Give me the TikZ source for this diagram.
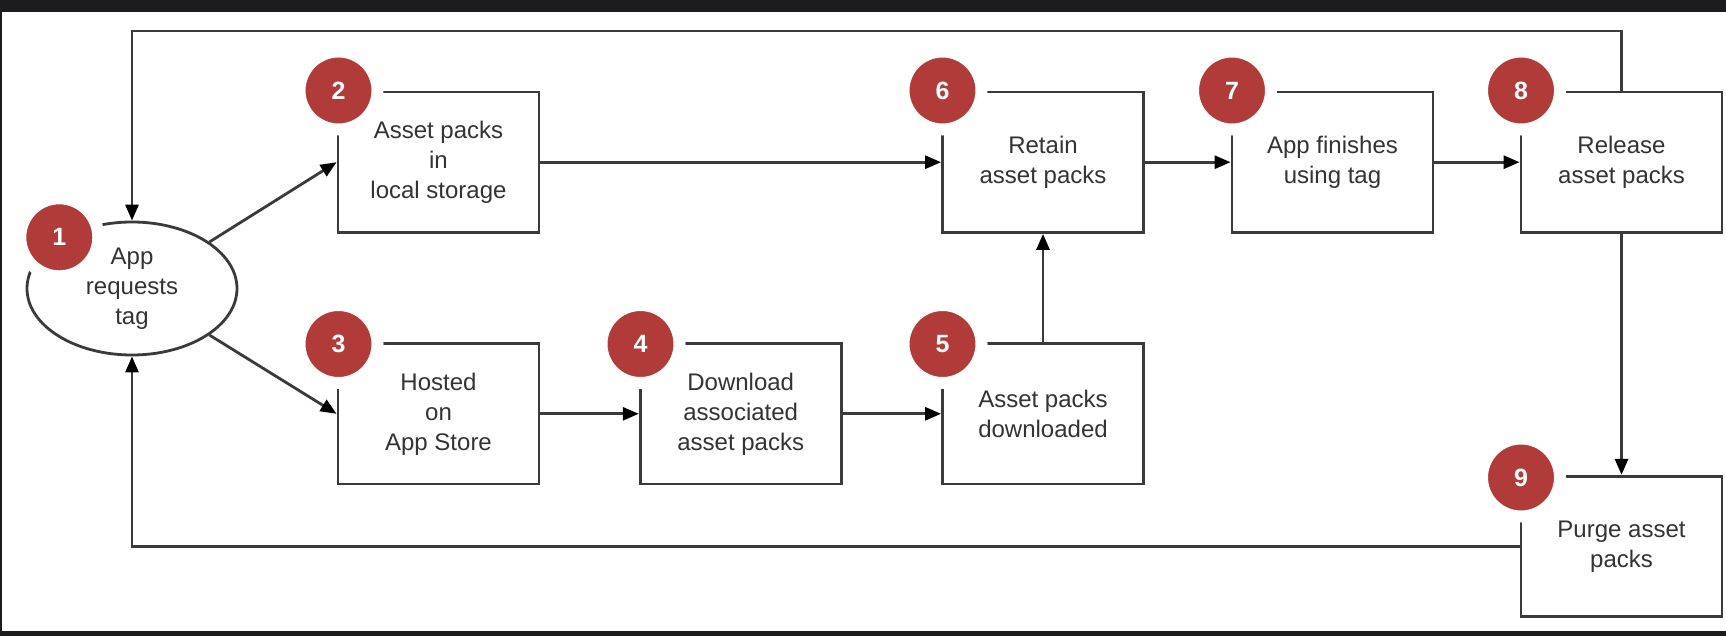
\documentclass[tikz,border=0pt]{standalone}
\usepackage{fontspec}
\setmainfont{Liberation Sans}
\usetikzlibrary{arrows.meta,shapes.geometric}
\definecolor{bandc}{HTML}{1C1C1E}
\definecolor{linec}{HTML}{3A3A3A}
\definecolor{textc}{HTML}{333333}
\definecolor{badgec}{HTML}{B03B38}
\tikzset{
  box/.style={draw=linec, line width=2.8pt, rectangle, minimum width=201pt, minimum height=140.5pt, inner sep=0pt, align=center, text=textc, font=\fontsize{24}{30}\selectfont},
  oval/.style={draw=linec, line width=2.8pt, ellipse, minimum width=210pt, minimum height=133pt, inner sep=0pt, align=center, text=textc, font=\fontsize{24}{30}\selectfont},
  badge/.style={circle, fill=badgec, draw=white, line width=12pt, minimum size=78pt, inner sep=0pt, text=white, font=\fontsize{25}{25}\selectfont\bfseries},
  arr/.style={draw=linec, line width=2.8pt, -{Triangle[length=16pt,width=13pt,color=black]}},
}
\begin{document}
\begin{tikzpicture}[x=1pt,y=-1pt]
\useasboundingbox (0,0) rectangle (1726,636);
\fill[white] (0,0) rectangle (1726,636);
\fill[bandc] (0,0) rectangle (1726,12);
\fill[bandc] (0,631) rectangle (1726,636);
\fill[bandc] (0,0) rectangle (1.5,636);

\node[oval] (e1) at (132,288.5) {App\\requests\\tag};
\node[box] (b2) at (438.5,162.2) {Asset packs\\in\\local storage};
\node[box] (b3) at (438.5,413.8) {Hosted\\on\\App Store};
\node[box] (b4) at (740.7,413.8) {Download\\associated\\asset packs};
\node[box] (b5) at (1043,413.8) {Asset packs\\downloaded};
\node[box] (b6) at (1043,162.2) {Retain\\asset packs};
\node[box] (b7) at (1332.5,162.2) {App finishes\\using tag};
\node[box] (b8) at (1621.5,162.2) {Release\\asset packs};
\node[box] (b9) at (1621.5,546.5) {Purge asset\\packs};

\coordinate (top) at (132,31);
\coordinate (bot) at (132,546.5);

\draw[arr] (e1.31) -- (b2.west);
\draw[arr] (e1.-31) -- (b3.west);
\draw[arr] (b2.east) -- (b6.west);
\draw[arr] (b6.east) -- (b7.west);
\draw[arr] (b7.east) -- (b8.west);
\draw[arr] (b3.east) -- (b4.west);
\draw[arr] (b4.east) -- (b5.west);
\draw[arr] (b5.north) -- (b6.south);
\draw[arr] (b8.south) -- (b9.north);
\draw[arr] (b8.north) |- (top) -- (e1.north);
\draw[arr] (b9.west) -- (bot) -- (e1.south);

\node[badge] (n1) at (59.3,237.3) {1};
\node[badge] (n2) at (338.5,90.5) {2};
\node[badge] (n3) at (338.5,344) {3};
\node[badge] (n4) at (640.5,344) {4};
\node[badge] (n5) at (942.5,344) {5};
\node[badge] (n6) at (942.5,90.5) {6};
\node[badge] (n7) at (1232,90.5) {7};
\node[badge] (n8) at (1521,90.5) {8};
\node[badge] (n9) at (1521,477.5) {9};
\end{tikzpicture}
\end{document}
